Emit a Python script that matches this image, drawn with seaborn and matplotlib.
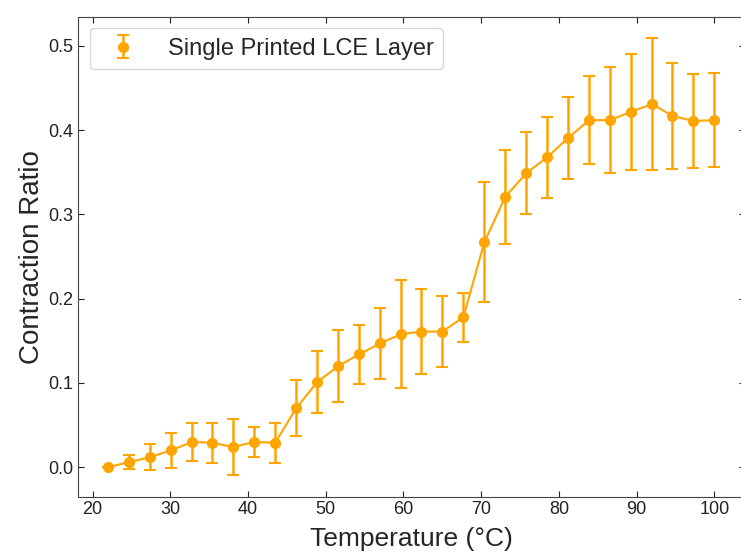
import matplotlib
matplotlib.use("Agg")
import matplotlib.pyplot as plt
import numpy as np
import pandas as pd
import seaborn as sns

# temperatures (°C)
temperature = [22.0, 24.7, 27.4, 30.1, 32.8, 35.4, 38.1, 40.8, 43.5, 46.2,
               48.9, 51.6, 54.3, 57.0, 59.7, 62.3, 65.0, 67.7, 70.4, 73.1,
               75.8, 78.5, 81.2, 83.9, 86.6, 89.3, 92.0, 94.6, 97.3, 100.0]
contraction = [0.000, 0.006, 0.012, 0.020, 0.030, 0.029, 0.024, 0.030, 0.029, 0.070,
               0.101, 0.120, 0.134, 0.147, 0.158, 0.161, 0.161, 0.178, 0.267, 0.321,
               0.349, 0.368, 0.391, 0.412, 0.412, 0.422, 0.431, 0.417, 0.411, 0.412]
std_err = [0.000, 0.008, 0.015, 0.021, 0.023, 0.024, 0.033, 0.018, 0.024, 0.033,
           0.037, 0.043, 0.035, 0.042, 0.064, 0.050, 0.042, 0.029, 0.071, 0.056,
           0.049, 0.048, 0.049, 0.052, 0.063, 0.069, 0.078, 0.063, 0.056, 0.056]

df = pd.DataFrame({"temp": temperature, "ratio": contraction, "err": std_err})

sns.set_style("ticks")
plt.rcParams["font.family"] = ["Liberation Sans", "DejaVu Sans"]
plt.rcParams["xtick.direction"] = "in"
plt.rcParams["ytick.direction"] = "in"
plt.rcParams["xtick.top"] = True
plt.rcParams["ytick.right"] = True

fig, ax = plt.subplots(figsize=(7.41, 5.53), dpi=100)
# the original was cropped, so the right spine sits just past the edge
fig.subplots_adjust(left=0.105, right=1.005, top=0.970, bottom=0.102)

sns.lineplot(data=df, x="temp", y="ratio", color="orange", marker="o",
             markersize=7, markeredgewidth=0, linewidth=1.5, ax=ax, legend=False)
ax.errorbar(df["temp"], df["ratio"], yerr=df["err"], fmt="o", color="orange",
            markersize=7, elinewidth=1.8, capsize=4.5, capthick=1.5,
            label="Single Printed LCE Layer")

ax.set_xticks([20, 30, 40, 50, 60, 70, 80, 90, 100])
ax.set_yticks([0.0, 0.1, 0.2, 0.3, 0.4, 0.5])
ax.tick_params(labelsize=13, colors="#222222", length=4)
ax.set_xlabel("Temperature (°C)", fontsize=19, labelpad=6)
ax.set_ylabel("Contraction Ratio", fontsize=20, labelpad=2)
for s in ax.spines.values():
    s.set_color("#444444")
ax.legend(loc="upper left", fontsize=17, frameon=True, handletextpad=0.9)

fig.savefig("out.png", dpi=100)
